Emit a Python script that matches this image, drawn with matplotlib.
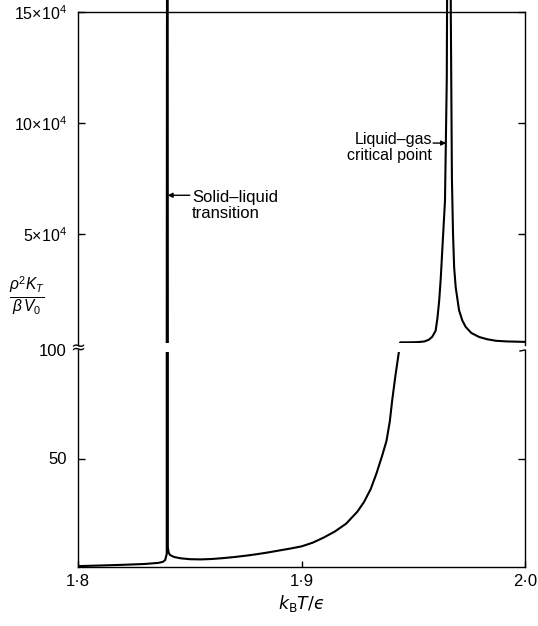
import matplotlib
matplotlib.use('Agg')
import matplotlib.pyplot as plt
import matplotlib.patches as mpatches
import numpy as np

plt.rcParams['font.family'] = ['Liberation Sans', 'DejaVu Sans']
plt.rcParams['mathtext.fontset'] = 'custom'
plt.rcParams['mathtext.rm'] = 'Liberation Sans'
plt.rcParams['mathtext.it'] = 'Liberation Sans:italic'

# reduced temperature k_B T / epsilon
temp = [1.800, 1.810, 1.820, 1.830, 1.836, 1.838, 1.839, 1.8397, 1.8400,
        1.8402, 1.8406, 1.8412, 1.843, 1.846, 1.850, 1.855, 1.860, 1.865,
        1.870, 1.875, 1.880, 1.885, 1.890, 1.895, 1.900, 1.905, 1.910,
        1.915, 1.920, 1.925, 1.928, 1.931, 1.9335, 1.936, 1.938, 1.9395,
        1.9406, 1.942, 1.9437, 1.9442, 1.948, 1.952, 1.955, 1.957, 1.9585,
        1.960, 1.9608, 1.9616, 1.9623, 1.963, 1.9642, 1.9650, 1.9661,
        1.9668, 1.9673, 1.9678, 1.9683, 1.969, 1.9705, 1.972, 1.9735,
        1.976, 1.9795, 1.983, 1.987, 1.992, 2.000]
# reduced compressibility rho^2 K_T / (beta V0)
kappa = [0.4, 0.7, 1.0, 1.4, 1.9, 2.4, 3.2, 6.0, 4.0e5,
         9.0, 6.5, 5.5, 4.6, 4.0, 3.6, 3.5, 3.7, 4.1,
         4.6, 5.2, 5.9, 6.7, 7.6, 8.5, 9.5, 11.2, 13.6,
         16.4, 20.0, 25.5, 30.0, 36.0, 43.0, 51.0, 58.0, 67.0,
         77.0, 88.0, 100.0, 1300, 1300, 1400, 1700, 2500, 3800,
         6500, 12000, 20000, 30000, 43000, 65000, 120000, 4.0e5,
         150000, 75000, 50000, 35000, 26000, 15700, 11000, 8200,
         5500, 3700, 2700, 2000, 1700, 1500]

x_ticks = [1.8, 1.9, 2.0]
x_labels = ['1·8', '1·9', '2·0']
upper_ticks = [5e4, 10e4, 15e4]
upper_labels = [r'$\mathregular{5{\times}10^4}$', r'$\mathregular{10{\times}10^4}$',
                r'$\mathregular{15{\times}10^4}$']
lower_ticks = [50, 100]
lower_labels = ['50', '100']

W, H = 538, 626
fig = plt.figure(figsize=(W / 100, H / 100), dpi=100)

left, right = 78 / W, 525 / W
ax_up = fig.add_axes([left, 1 - 345 / H, right - left, (345 - 12) / H])
ax_lo = fig.add_axes([left, 1 - 567 / H, right - left, (567 - 350) / H])

# clip just inside the broken edges so clipped segments don't smear along them
clips = {ax_up: (0, 0.007, 1, 1.5), ax_lo: (0, -0.5, 1, 1.49)}
for ax in (ax_up, ax_lo):
    line, = ax.plot(temp, kappa, color='black', lw=1.5, solid_joinstyle='round')
    x0, y0, w, h = clips[ax]
    line.set_clip_path(mpatches.Rectangle((x0, y0), w, h, transform=ax.transAxes))
    ax.set_xlim(1.8, 2.0)
    for s in ax.spines.values():
        s.set_linewidth(1.0)
    ax.tick_params(axis='y', direction='in', length=5, width=1.0,
                   left=True, right=True, labelsize=12, pad=8)

ax_up.set_ylim(100, 15e4)
ax_up.set_yticks(upper_ticks)
ax_up.set_yticklabels(upper_labels)
ax_up.tick_params(axis='y', labelsize=11.5)
ax_up.spines['bottom'].set_visible(False)
ax_up.set_xticks([])

ax_lo.set_ylim(0, 100)
ax_lo.set_yticks(lower_ticks)
ax_lo.set_yticklabels(lower_labels)
ax_lo.spines['top'].set_visible(False)
t100 = ax_lo.yaxis.get_major_ticks()[1]
t100.tick1line.set_visible(False)
t100.tick2line.set_visible(False)
ax_lo.set_xticks(x_ticks)
ax_lo.set_xticklabels(x_labels)
ax_lo.tick_params(axis='x', direction='in', length=4, width=1.0,
                  labelsize=12, pad=5)
ax_lo.set_xlabel(r'$k_{\rm B}T/ϵ$', fontsize=12.5, labelpad=3,
                 math_fontfamily='dejavusans')

# axis break marks
fig.text(left, 1 - 348 / H, '≈', ha='center', va='center', fontsize=13,
         family='DejaVu Sans')
fig.lines.append(plt.Line2D([right - 5 / W, right], [1 - 351 / H, 1 - 350 / H],
                            transform=fig.transFigure, color='black', lw=1.0))

fig.text(27 / W, 1 - 296 / H, r'$\frac{\rho^2 K_T}{\beta\, V_0}$',
         ha='center', va='center', fontsize=16)

arrow = dict(arrowstyle='-|>', color='black', lw=1.0, shrinkA=0, shrinkB=0,
             mutation_scale=7)
ax_up.annotate('', xy=(1.8401, 6.75e4), xytext=(1.8500, 6.75e4), arrowprops=arrow)
ax_up.text(1.8510, 6.3e4, 'Solid–liquid\ntransition', fontsize=12,
           ha='left', va='center', linespacing=1.05)
ax_up.annotate('', xy=(1.9647, 9.1e4), xytext=(1.9589, 9.1e4), arrowprops=arrow)
ax_up.text(1.9585, 8.9e4, 'Liquid–gas\ncritical point', fontsize=11.5,
           ha='right', va='center', linespacing=1.05)

fig.savefig('out.png', dpi=100)
